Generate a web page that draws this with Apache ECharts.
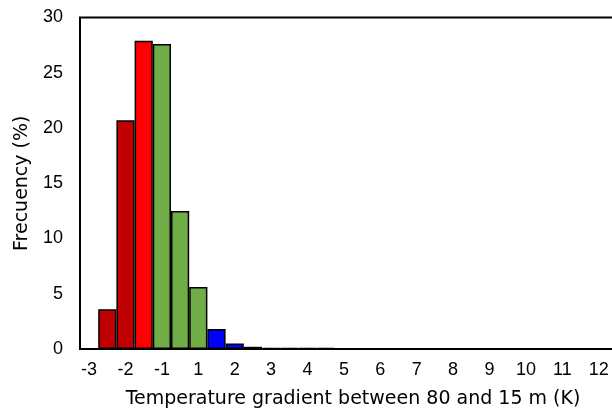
<!DOCTYPE html>
<html>
<head>
<meta charset="utf-8">
<script src="https://cdn.jsdelivr.net/npm/echarts@6/dist/echarts.min.js"></script>
<style>
  html, body { margin: 0; padding: 0; background: #fff; }
  #chart { width: 612px; height: 414px; }
</style>
</head>
<body>
<div id="chart"></div>
<script>
// Histogram bins (0.5 K wide); only every other bin carries a tick label
const binLabels = ['-3','','-2','','-1','','1','','2','','3','','4','','5','','6','','7','','8','','9','','10','','11','','12',''];
// Frequency of each bin (%)
const frequency = [0, 3.6, 20.7, 27.9, 27.6, 12.5, 5.6, 1.8, 0.5, 0.2, 0.1, 0.1, 0.1, 0.1, 0, 0, 0, 0, 0, 0, 0, 0, 0, 0, 0, 0, 0, 0, 0, 0];
const yTicks = [0, 5, 10, 15, 20, 25, 30];

// Fill colour by bin index
function binColor(i) {
  if (i <= 2) return '#C00000';
  if (i === 3) return '#FF0000';
  if (i <= 6) return '#70AD47';
  return '#0000FF';
}

const chart = echarts.init(document.getElementById('chart'), null, { renderer: 'canvas' });
const tickFont = 'Liberation Sans, Arial, sans-serif';
const titleFont = 'DejaVu Sans, Liberation Sans, sans-serif';

chart.setOption({
  animation: false,
  backgroundColor: '#ffffff',
  grid: {
    left: 80, top: 17.5, width: 546, height: 331.5,
    outerBoundsMode: 'none',
    containLabel: false,
    show: true, borderColor: '#000', borderWidth: 2, backgroundColor: 'transparent'
  },
  xAxis: {
    type: 'category',
    data: binLabels,
    name: 'Temperature gradient between 80 and 15 m (K)',
    nameLocation: 'middle',
    nameGap: 41,
    nameTextStyle: { fontFamily: titleFont, fontSize: 19, color: '#000' },
    axisLine: { show: true, lineStyle: { color: '#000', width: 2 } },
    axisTick: { show: false },
    axisLabel: { interval: 0, fontFamily: tickFont, fontSize: 18, color: '#000', margin: 12 },
    splitLine: { show: false }
  },
  yAxis: {
    type: 'value',
    min: yTicks[0],
    max: yTicks[yTicks.length - 1],
    interval: yTicks[1] - yTicks[0],
    name: 'Frecuency (%)',
    nameLocation: 'middle',
    nameGap: 48,
    nameTextStyle: { fontFamily: titleFont, fontSize: 19, color: '#000' },
    axisLine: { show: true, lineStyle: { color: '#000', width: 1.5 } },
    axisTick: { show: false },
    axisLabel: { fontFamily: tickFont, fontSize: 18, color: '#000', margin: 17 },
    splitLine: { show: false }
  },
  series: [{
    type: 'bar',
    data: frequency,
    barCategoryGap: '0%',
    itemStyle: {
      color: p => binColor(p.dataIndex),
      borderColor: '#000',
      borderWidth: 1.5
    }
  }]
});
</script>
</body>
</html>
